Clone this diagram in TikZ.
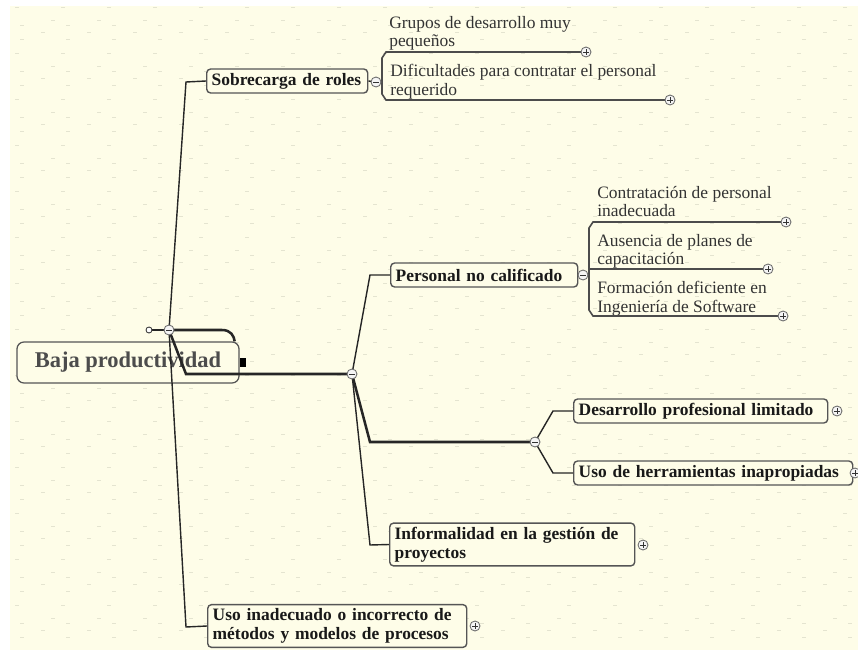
\documentclass[tikz,border=0pt]{standalone}
\usepackage{fontspec}
\setmainfont{Liberation Serif}
\usetikzlibrary{calc}

\definecolor{paper}{RGB}{254,253,232}
\definecolor{dashgray}{RGB}{228,228,208}
\definecolor{inkgray}{RGB}{85,85,85}
\definecolor{knobrim}{RGB}{105,105,105}

\tikzset{
  rootbox/.style={draw=inkgray, line width=0.9pt, rounded corners=5pt, fill=paper,
    minimum width=5.55cm, minimum height=1.025cm, inner sep=0pt,
    font=\fontsize{16}{18}\selectfont\bfseries, text=black!70},
  topicbox/.style={draw=inkgray, line width=1pt, rounded corners=2.8pt, fill=paper,
    anchor=west, inner xsep=0.125cm, inner ysep=0pt, minimum height=0.6cm, align=left,
    font=\fontsize{12.4}{13.2}\selectfont\bfseries, text=black!90},
  twoline/.style={minimum height=1.07cm},
  leaftext/.style={anchor=north west, inner sep=0pt, align=left,
    font=\fontsize{12.4}{13.2}\selectfont, text=black!80},
  branch/.style={line width=1pt, black!85},
  trunk/.style={line width=1.8pt, black!85},
  leafline/.style={line width=1.1pt, black!70},
  knob/.style={circle, draw=knobrim, fill=white!92!gray, line width=0.6pt,
    minimum size=0.25cm, inner sep=0pt},
  minusknob/.style={knob, path picture={
    \draw[line width=0.7pt, black!80] ([xshift=-0.07cm]path picture bounding box.center)
      -- ([xshift=0.07cm]path picture bounding box.center);}},
  plusknob/.style={knob, path picture={
    \draw[line width=0.7pt, black!80] ([xshift=-0.07cm]path picture bounding box.center)
      -- ([xshift=0.07cm]path picture bounding box.center);
    \draw[line width=0.7pt, black!80] ([yshift=-0.07cm]path picture bounding box.center)
      -- ([yshift=0.07cm]path picture bounding box.center);}},
  tailknob/.style={circle, draw=black!80, fill=white, line width=0.6pt,
    minimum size=0.15cm, inner sep=0pt}
}

\begin{document}
\begin{tikzpicture}[x=0.025cm, y=-0.025cm]
  \useasboundingbox (0,0) rectangle (858,650);
  \fill[white] (0,0) rectangle (858,650);
  \fill[paper] (10,6) rectangle (858,650);
  \begin{scope}
    \clip (10,6) rectangle (858,650);
    \foreach \i in {0,...,19}
      \foreach \j in {0,...,14}
        \foreach \dx/\dy in {0/0,36/13,5/18,26/25,5/32}
          \draw[dashgray, line width=0.5pt] ({-31+46*\i+\dx},{7+46*\j+\dy}) -- ++(4,0);
  \end{scope}

  % central topic
  \node[rootbox] (root) at (128,362.5) {Baja productividad};
  \fill[black] (root.east) ++(0,-4.5) rectangle ++(6,9);

  % hubs
  \coordinate (tail) at (149,330);
  \coordinate (hub0) at (169,330);
  \coordinate (hub1) at (352,374);
  \coordinate (hub2) at (535,442);

  % topics
  \node[topicbox, text width=3.775cm] (sob) at (206,81) {Sobrecarga de roles};
  \node[topicbox, text width=4.425cm] (pers) at (390,275) {Personal no calificado};
  \node[topicbox, text width=6.1cm] (desa) at (573,411) {Desarrollo profesional limitado};
  \node[topicbox, text width=6.725cm] (herr) at (573,473) {Uso de herramientas inapropiadas};
  \node[topicbox, twoline, text width=5.875cm] (info) at (389,544.5)
    {Informalidad en la gestión de\\proyectos};
  \node[topicbox, twoline, text width=6.225cm] (uso) at (207,626)
    {Uso inadecuado o incorrecto de\\métodos y modelos de procesos};

  % subtopics
  \node[leaftext] (grupos) at (389,16) {Grupos de desarrollo muy\\pequeños};
  \node[leaftext] (dific) at (390,64) {Dificultades para contratar el personal\\requerido};
  \node[leaftext] (contr) at (597,186) {Contratación de personal\\inadecuada};
  \node[leaftext] (ausen) at (597,234) {Ausencia de planes de\\capacitación};
  \node[leaftext] (forma) at (597,281) {Formación deficiente en\\Ingeniería de Software};

  % knob places
  \coordinate (kSob) at (376,82);
  \coordinate (kPers) at (583,275);
  \coordinate (kGrupos) at (586,52);
  \coordinate (kDific) at (670,100);
  \coordinate (kContr) at (786,222);
  \coordinate (kAusen) at (768,269);
  \coordinate (kForma) at (783,316);
  \coordinate (kDesa) at (837,411);
  \coordinate (kHerr) at (855,473);
  \coordinate (kInfo) at (643,545);
  \coordinate (kUso) at (475,626);

  % connectors
  \draw[branch] (tail) -- (hub0);
  \draw[trunk] (hub0) -- (222,330) .. controls (231,330) and (234,336) .. ($(root.north east)+(-5,0)$);
  \draw[branch] (hub0) -- (186,82) -- (sob.west);
  \draw[branch] (hub0) -- (186,627) -- (uso.west);
  \draw[trunk] (hub0) -- (186,374) -- (hub1);
  \draw[branch] (hub1) -- (370,275) -- (pers.west);
  \draw[trunk] (hub1) -- (370,442) -- (hub2);
  \draw[branch] (hub1) -- (370,545) -- (info.west);
  \draw[branch] (hub2) -- (553,411) -- (desa.west);
  \draw[branch] (hub2) -- (553,473) -- (herr.west);
  \draw[branch] (sob.east) -- (kSob);
  \draw[branch] (pers.east) -- (kPers);
  \draw[leafline] (kSob) -- (382,82);
  \draw[leafline] (kGrupos) -- (386,52) -- (382,58) -- (382,94) -- (386,100) -- (kDific);
  \draw[leafline] (kPers) -- (589,275);
  \draw[leafline] (kContr) -- (593,222) -- (589,228) -- (589,310) -- (593,316) -- (kForma);
  \draw[leafline] (589,269) -- (kAusen);

  % knobs
  \node[tailknob] (t0) at (tail) {};
  \node[minusknob] (m0) at (hub0) {};
  \node[minusknob] (m1) at (hub1) {};
  \node[minusknob] (m2) at (hub2) {};
  \node[minusknob] (m3) at (kSob) {};
  \node[minusknob] (m4) at (kPers) {};
  \node[plusknob] (p1) at (kGrupos) {};
  \node[plusknob] (p2) at (kDific) {};
  \node[plusknob] (p3) at (kContr) {};
  \node[plusknob] (p4) at (kAusen) {};
  \node[plusknob] (p5) at (kForma) {};
  \node[plusknob] (p6) at (kDesa) {};
  \node[plusknob] (p7) at (kHerr) {};
  \node[plusknob] (p8) at (kInfo) {};
  \node[plusknob] (p9) at (kUso) {};
\end{tikzpicture}
\end{document}
